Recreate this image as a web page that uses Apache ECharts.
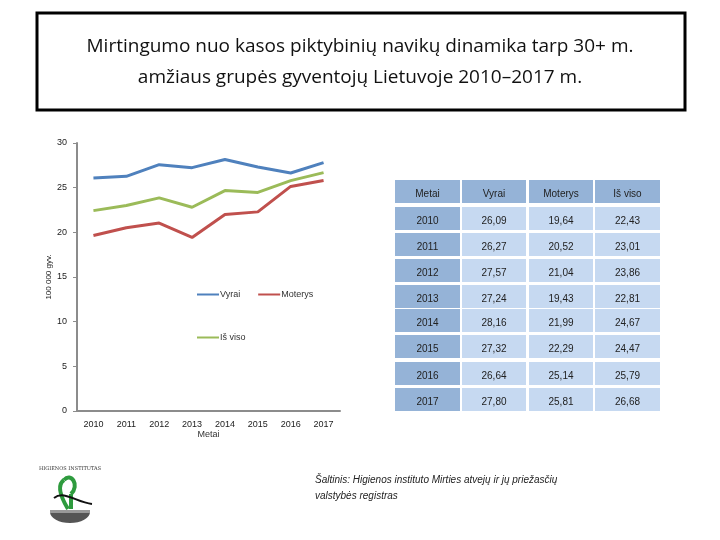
<!DOCTYPE html>
<html>
<head>
<meta charset="utf-8">
<script src="https://cdn.jsdelivr.net/npm/echarts@6/dist/echarts.min.js"></script>
<style>
  html, body { margin: 0; padding: 0; background: #fff; }
  #main { width: 720px; height: 540px; }
</style>
</head>
<body>
<div id="main"></div>
<script>
// duomenys
const years = ["2010", "2011", "2012", "2013", "2014", "2015", "2016", "2017"];
const vyrai = [26.09, 26.27, 27.57, 27.24, 28.16, 27.32, 26.64, 27.80];
const moterys = [19.64, 20.52, 21.04, 19.43, 21.99, 22.29, 25.14, 25.81];
const isViso = [22.43, 23.01, 23.86, 22.81, 24.67, 24.47, 25.79, 26.68];
const tableHeader = ["Metai", "Vyrai", "Moterys", "Iš viso"];

const chart = echarts.init(document.getElementById("main"));

const fmt = (v) => v.toFixed(2).replace(".", ",");

// lentelė dešinėje
const colX = [395, 462, 529, 595];
const colW = [65, 64, 64, 65];
const rowY = [180, 207, 233, 259, 285, 309, 335, 362, 388];
const rowH = 23;
const tableEls = [];
rowY.forEach((y, r) => {
  const cells = r === 0
    ? tableHeader
    : [years[r - 1], fmt(vyrai[r - 1]), fmt(moterys[r - 1]), fmt(isViso[r - 1])];
  cells.forEach((txt, c) => {
    const dark = r === 0 || c === 0;
    tableEls.push({
      type: "rect",
      shape: { x: colX[c], y: y, width: colW[c], height: rowH },
      style: { fill: dark ? "#95B3D7" : "#C6D9F1" }
    });
    tableEls.push({
      type: "text",
      x: colX[c] + colW[c] / 2,
      y: y + rowH - 4,
      style: {
        text: txt, fill: "#222", fontSize: 10,
        fontFamily: "Liberation Sans, sans-serif",
        textAlign: "center", textVerticalAlign: "bottom"
      }
    });
  });
});

chart.setOption({
  animation: false,
  color: ["#4F81BD", "#C0504D", "#9BBB59"],
  grid: { left: 77, top: 143, right: 380, bottom: 129, containLabel: false },
  legend: [
    {
      data: ["Vyrai", "Moterys"],
      left: 192, top: 285, itemWidth: 22, itemHeight: 2, itemGap: 18,
      icon: "rect",
      textStyle: { fontSize: 9, color: "#333", padding: [0, 0, 0, -4] }
    },
    {
      data: ["Iš viso"],
      left: 192, top: 328, itemWidth: 22, itemHeight: 2,
      icon: "rect",
      textStyle: { fontSize: 9, color: "#333", padding: [0, 0, 0, -4] }
    }
  ],
  xAxis: {
    type: "category",
    data: years,
    name: "Metai",
    nameLocation: "middle",
    nameGap: 18,
    nameTextStyle: { fontSize: 9, color: "#333" },
    axisLine: { lineStyle: { color: "#8c8c8c", width: 2 } },
    axisTick: { show: false },
    axisLabel: { fontSize: 9, color: "#222", margin: 9 }
  },
  yAxis: {
    type: "value",
    min: 0, max: 30, interval: 5,
    name: "100 000 gyv.",
    nameLocation: "middle",
    nameGap: 20,
    nameRotate: 90,
    nameTextStyle: { fontSize: 8, color: "#222" },
    axisLine: { show: true, lineStyle: { color: "#8c8c8c", width: 2 } },
    axisTick: { show: true, length: 4, lineStyle: { color: "#8c8c8c" } },
    axisLabel: { fontSize: 9, color: "#222", margin: 10 },
    splitLine: { show: false }
  },
  series: [
    { name: "Vyrai", type: "line", data: vyrai, showSymbol: false, lineStyle: { width: 3 } },
    { name: "Moterys", type: "line", data: moterys, showSymbol: false, lineStyle: { width: 3 } },
    { name: "Iš viso", type: "line", data: isViso, showSymbol: false, lineStyle: { width: 3 } }
  ],
  graphic: [
    {
      type: "rect",
      shape: { x: 37, y: 13, width: 648, height: 97 },
      style: { fill: "#fff", stroke: "#000", lineWidth: 3 }
    },
    {
      type: "text",
      x: 360, y: 62,
      style: {
        text: "Mirtingumo nuo kasos piktybinių navikų dinamika tarp 30+ m.\namžiaus grupės gyventojų Lietuvoje 2010–2017 m.",
        fill: "#111", fontSize: 19, lineHeight: 31,
        fontFamily: "Open Sans, sans-serif",
        textAlign: "center", textVerticalAlign: "middle"
      }
    },
    ...tableEls,
    {
      type: "text",
      x: 315, y: 472,
      style: {
        text: "Šaltinis: Higienos instituto Mirties atvejų ir jų priežasčių\nvalstybės registras",
        fill: "#222", fontSize: 10, fontStyle: "italic", lineHeight: 16,
        fontFamily: "Liberation Sans, sans-serif"
      }
    },
    // logotipas (supaprastintas)
    {
      type: "group",
      x: 40, y: 446,
      children: [
        { type: "sector", shape: { cx: 30, cy: 66, r: 20, startAngle: 0, endAngle: Math.PI }, scaleY: 0.55, originY: 66, originX: 30, style: { fill: "#555" } },
        { type: "rect", shape: { x: 10, y: 64, width: 40, height: 3 }, style: { fill: "#999" } },
        { type: "bezierCurve", shape: { x1: 28, y1: 63, x2: 24, y2: 34, cpx1: 19, cpy1: 48, cpx2: 18, cpy2: 38 }, style: { fill: "none", stroke: "#2e9b3e", lineWidth: 4 } },
        { type: "bezierCurve", shape: { x1: 24, y1: 34, x2: 31, y2: 48, cpx1: 31, cpy1: 26, cpx2: 40, cpy2: 39 }, style: { fill: "none", stroke: "#2e9b3e", lineWidth: 4 } },
        { type: "line", shape: { x1: 31, y1: 48, x2: 31, y2: 63 }, style: { stroke: "#2e9b3e", lineWidth: 4 } },
        { type: "bezierCurve", shape: { x1: 14, y1: 52, x2: 52, y2: 58, cpx1: 24, cpy1: 44, cpx2: 36, cpy2: 56 }, style: { fill: "none", stroke: "#111", lineWidth: 2 } },
        { type: "text", x: 30, y: 20, style: { text: "HIGIENOS INSTITUTAS", fontSize: 5, fill: "#333", textAlign: "center", fontFamily: "DejaVu Serif, serif" } }
      ]
    }
  ]
});
</script>
</body>
</html>
